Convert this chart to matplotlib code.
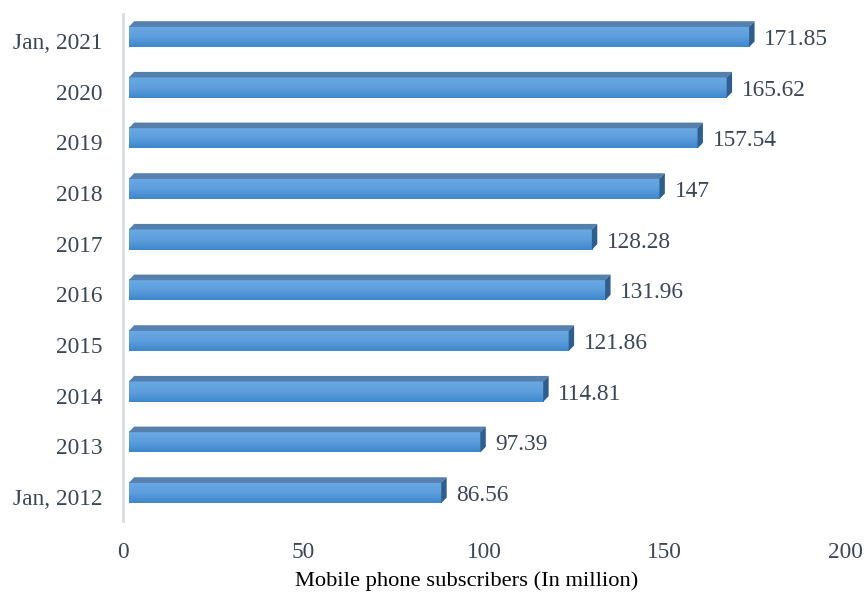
import matplotlib
matplotlib.use("Agg")
import matplotlib.pyplot as plt
from matplotlib.patches import Polygon
from matplotlib.colors import LinearSegmentedColormap
import numpy as np

categories = ["Jan, 2012", "2013", "2014", "2015", "2016", "2017", "2018", "2019", "2020", "Jan, 2021"]
values = [86.56, 97.39, 114.81, 121.86, 131.96, 128.28, 147, 157.54, 165.62, 171.85]
value_labels = ["86.56", "97.39", "114.81", "121.86", "131.96", "128.28", "147", "157.54", "165.62", "171.85"]
xticks = [0, 50, 100, 150, 200]

plt.rcParams['font.family'] = ['Liberation Serif', 'DejaVu Serif']

fig = plt.figure(figsize=(8.64, 5.99), dpi=100)
ax = fig.add_axes([123/864, (599-518.3)/599, 722/864, 506.7/599])

x0 = 1.6      # front-face start (data units)
h = 0.40      # front-face height (category units)
dx = 1.5      # depth offset x
dy = 0.11     # depth offset y

grad = np.linspace(0, 1, 64).reshape(-1, 1)
cmap = LinearSegmentedColormap.from_list("g", ["#3f86cd", "#5d9fdc", "#6aa9e2"])

for i, v in enumerate(values):
    y = i
    xe = x0 + v
    yb, yt = y - h/2, y + h/2
    ax.imshow(grad, extent=[x0, xe, yb, yt], origin='lower', cmap=cmap,
              aspect='auto', zorder=2, interpolation='bilinear')
    ax.add_patch(Polygon([[x0, yt], [xe, yt], [xe+dx, yt+dy], [x0+dx, yt+dy]],
                         closed=True, facecolor="#5580ad", edgecolor="none", zorder=3))
    ax.add_patch(Polygon([[xe, yb], [xe+dx, yb+dy], [xe+dx, yt+dy], [xe, yt]],
                         closed=True, facecolor="#2e5d8e", edgecolor="none", zorder=3))
    ax.annotate(value_labels[i], xy=(xe+dx, y - 0.05), xytext=(7, 0),
                textcoords='offset points', va='center', ha='left',
                fontsize=16.8, color='#3b4656')

ax.set_xlim(0, 200)
ax.set_ylim(-0.5, 9.5)
ax.set_xticks(xticks)
ax.set_xticklabels([str(t) for t in xticks])
ax.set_yticks(np.arange(len(categories)) - 0.08)
ax.set_yticklabels(categories)
ax.tick_params(axis='both', length=0, labelsize=16.8, labelcolor='#3b4656')
ax.tick_params(axis='x', pad=17)
ax.tick_params(axis='y', pad=14.5)
for s in ['top', 'right', 'bottom']:
    ax.spines[s].set_visible(False)
ax.spines['left'].set_color('#d9dbe3')
ax.spines['left'].set_linewidth(2)
ax.spines['left'].set_bounds(-0.55, 9.45)
ax.set_xlabel("Mobile phone subscribers (In million)", fontsize=16.2, color='black', labelpad=10)
ax.xaxis.set_label_coords(0.476, -0.105)

fig.savefig("out.png", dpi=100)
